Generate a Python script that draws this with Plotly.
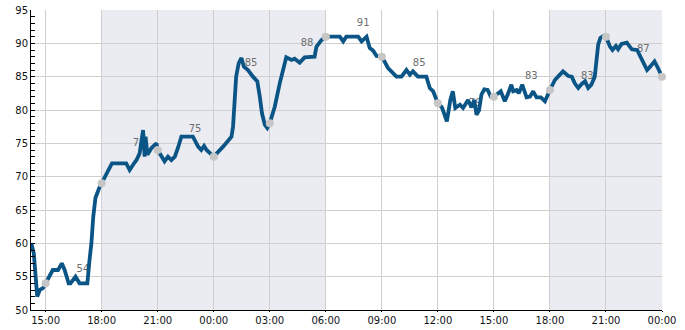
import plotly.graph_objects as go

D1, D2, D3 = "2024-05-01", "2024-05-02", "2024-05-03"

series_times = (
    [D1 + " " + t for t in [
        "14:14", "14:22", "14:33", "14:41", "14:52", "15:00", "15:23", "15:40", "15:52", "16:01",
        "16:14", "16:20", "16:36", "16:49", "17:14", "17:21", "17:27", "17:33", "17:40", "17:52",
        "18:00", "18:33", "19:19", "19:30", "19:44", "19:52", "20:02", "20:13", "20:18", "20:21",
        "20:27", "20:40", "20:56", "21:00", "21:22", "21:33", "21:44", "21:55", "22:05", "22:16",
        "22:53", "23:10", "23:20", "23:29", "23:37"]]
    + [D2 + " " + t for t in [
        "00:00", "00:30", "00:57", "01:02", "01:07", "01:12", "01:20", "01:29", "01:37", "01:50",
        "02:06", "02:20", "02:28", "02:35", "02:44", "02:52", "03:00", "03:16", "03:32", "03:43",
        "03:53", "04:10", "04:20", "04:36", "04:52", "05:24", "05:30", "05:46", "06:00", "06:45",
        "06:56", "07:06", "07:44", "07:55", "08:11", "08:21", "08:32", "08:43", "09:00", "09:20",
        "09:36", "09:47", "10:03", "10:19", "10:30", "10:40", "10:56", "11:23", "11:34", "11:45",
        "12:00", "12:13", "12:29", "12:40", "12:48", "12:56", "13:11", "13:21", "13:37", "13:48",
        "13:57", "14:04", "14:12", "14:20", "14:29", "14:40", "14:50", "15:00", "15:22", "15:35",
        "15:46", "15:56", "16:02", "16:13", "16:20", "16:31", "16:45", "16:56", "17:06", "17:17",
        "17:31", "17:44", "18:00", "18:16", "18:26", "18:42", "18:59", "19:10", "19:20", "19:31",
        "19:42", "19:53", "20:03", "20:13", "20:24", "20:29", "20:35", "20:42", "20:51", "21:00",
        "21:13", "21:21", "21:32", "21:39", "21:50", "22:07", "22:23", "22:40", "22:50", "23:01",
        "23:12", "23:22", "23:36", "23:47"]]
    + [D3 + " 00:00"]
)

series_values = [
    60, 58.5, 52, 53, 53.3, 54, 56, 56, 57, 56,
    54, 54, 55, 54, 54, 57.5, 60, 64, 66.8, 68.3,
    69, 72, 72, 71, 72, 72.5, 73.5, 77, 73, 76,
    73.3, 74.3, 75, 74, 72.3, 73, 72.5, 73, 74.3, 76,
    76, 74.5, 74, 74.6, 74,
    73, 74.5, 76, 77.5, 81.5, 85, 87, 87.8, 86.5, 86,
    85, 84.3, 82, 79.5, 77.8, 77.3, 78, 80.5, 84, 86,
    87.9, 87.5, 87.7, 87.1, 87.9, 88, 89.5, 90.5, 91, 91,
    90.3, 91, 91, 90.3, 91, 89.3, 88.9, 88.1, 88, 86.3,
    85.5, 85, 85, 86, 85.3, 85.8, 85, 85, 83.3, 82.8,
    81, 80.4, 78.3, 81.5, 82.8, 80.3, 80.8, 80.3, 81.5, 80.4,
    81.5, 79.3, 79.9, 82.3, 83.1, 83, 82, 82, 82.8, 81.3,
    82.5, 83.8, 82.8, 83, 82.5, 83.8, 81.9, 82, 82.8, 81.9,
    81.9, 81.3, 83, 84.5, 85, 85.8, 85.1, 85, 84, 83.3,
    83.9, 84.3, 83.3, 83.8, 85, 88, 89.8, 90.8, 91.1, 91,
    89.5, 89, 89.6, 89.1, 89.9, 90.1, 89.1, 89, 88, 87,
    86, 86.5, 87.3, 86.3,
    85,
]

marker_times = [D1 + " 15:00", D1 + " 18:00", D1 + " 21:00", D2 + " 00:00", D2 + " 03:00", D2 + " 06:00",
                D2 + " 09:00", D2 + " 12:00", D2 + " 15:00", D2 + " 18:00", D2 + " 21:00", D3 + " 00:00"]
marker_values = [54, 69, 74, 73, 78, 91, 88, 81, 82, 83, 91, 85]

label_times = [D1 + " 17:00", D1 + " 20:00", D1 + " 23:00", D2 + " 02:00", D2 + " 05:00", D2 + " 08:00",
               D2 + " 11:00", D2 + " 14:00", D2 + " 17:00", D2 + " 20:00", D2 + " 23:00"]
label_values = [54, 73, 75, 85, 88, 91, 85, 79, 83, 83, 87]

night_bands = [(D1 + " 18:00", D2 + " 06:00"), (D2 + " 18:00", D3 + " 00:00")]

x_range = [D1 + " 14:13", D3 + " 00:00"]
y_range = [50, 95]
x_tickvals = [D1 + " 15:00", D1 + " 18:00", D1 + " 21:00", D2 + " 00:00", D2 + " 03:00", D2 + " 06:00",
              D2 + " 09:00", D2 + " 12:00", D2 + " 15:00", D2 + " 18:00", D2 + " 21:00", D3 + " 00:00"]
x_ticktext = ["15:00", "18:00", "21:00", "00:00", "03:00", "06:00",
              "09:00", "12:00", "15:00", "18:00", "21:00", "00:00"]

FONT = "DejaVu Sans"
LINE_COLOR = "#0b5586"
GRID = "#cfcfcf"

fig = go.Figure()

fig.add_trace(go.Scatter(
    x=label_times, y=label_values, mode="markers+text",
    text=[str(v) for v in label_values], textposition="top center",
    textfont=dict(family=FONT, size=10, color="#6e6e6e"),
    marker=dict(size=12, color="rgba(0,0,0,0)"),
    hoverinfo="skip", showlegend=False,
))

fig.add_trace(go.Scatter(
    x=series_times, y=series_values, mode="lines",
    line=dict(color=LINE_COLOR, width=3.8),
    hoverinfo="skip", showlegend=False,
))

fig.add_trace(go.Scatter(
    x=marker_times, y=marker_values, mode="markers",
    marker=dict(size=8, color="#c6c6c6"),
    hoverinfo="skip", showlegend=False, cliponaxis=False,
))

for x0, x1 in night_bands:
    fig.add_shape(type="rect", xref="x", yref="paper", x0=x0, x1=x1, y0=0, y1=1,
                  fillcolor="#ebecf2", line=dict(width=0), layer="below")

fig.update_layout(
    width=685, height=330,
    margin=dict(l=31, r=23, t=10, b=20, autoexpand=False),
    paper_bgcolor="white", plot_bgcolor="white",
    font=dict(family=FONT, size=10, color="#111111"),
    showlegend=False,
)

fig.update_xaxes(
    range=x_range, tickvals=x_tickvals, ticktext=x_ticktext,
    showgrid=True, gridcolor=GRID, gridwidth=1,
    showline=True, linecolor="black", linewidth=1,
    ticks="outside", ticklen=1, tickcolor="black",
    tickfont=dict(family=FONT, size=10, color="#111111"),
    zeroline=False, automargin=False,
)

fig.update_yaxes(
    range=y_range, dtick=5, tick0=50,
    showgrid=True, gridcolor=GRID, gridwidth=1,
    showline=True, linecolor="black", linewidth=1,
    ticks="inside", ticklen=4, tickcolor="black",
    minor=dict(dtick=1, ticks="inside", ticklen=4, tickcolor="black", showgrid=False),
    tickfont=dict(family=FONT, size=10, color="#111111"),
    zeroline=False, automargin=False,
)

fig.write_html("out.html")
